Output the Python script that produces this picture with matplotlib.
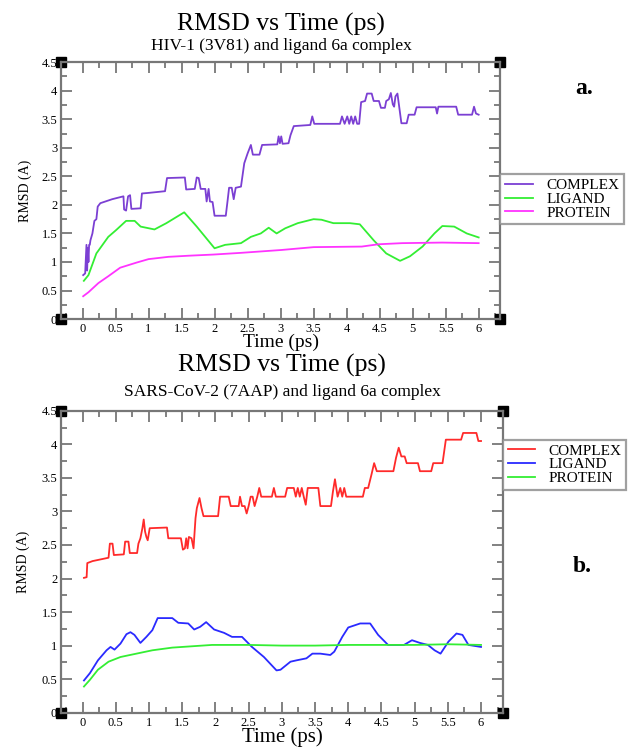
import numpy as np
import matplotlib
matplotlib.use("Agg")
import matplotlib.pyplot as plt
from matplotlib.ticker import MultipleLocator, FormatStrFormatter

plt.rcParams['font.family'] = ['Liberation Serif', 'DejaVu Serif']

# ---- panel a : HIV-1 (3V81) ----
a_complex_t = [0.01, 0.04, 0.06, 0.07, 0.08, 0.09, 0.10, 0.11, 0.12, 0.15, 0.18, 0.21, 0.23, 0.27,
               0.45, 0.62, 0.63, 0.66, 0.69, 0.72, 0.74, 0.88, 0.90, 1.00, 1.25, 1.28, 1.55, 1.57,
               1.70, 1.73, 1.76, 1.79, 1.86, 1.88, 1.91, 1.93, 1.97, 2.00, 2.17, 2.20, 2.22, 2.26,
               2.29, 2.32, 2.40, 2.45, 2.50, 2.55, 2.58, 2.68, 2.72, 2.95, 2.97, 2.99, 3.01, 3.03,
               3.12, 3.15, 3.20, 3.45, 3.48, 3.51, 3.90, 3.93, 3.97, 4.01, 4.04, 4.07, 4.10, 4.13,
               4.16, 4.19, 4.22, 4.28, 4.31, 4.38, 4.41, 4.49, 4.52, 4.58, 4.60, 4.64, 4.67, 4.70,
               4.72, 4.74, 4.77, 4.83, 4.91, 4.94, 5.03, 5.06, 5.35, 5.37, 5.39, 5.66, 5.69, 5.90,
               5.93, 5.96, 6.00]
a_complex_v = [0.77, 0.80, 1.30, 0.85, 1.25, 1.00, 1.30, 1.30, 1.38, 1.50, 1.72, 1.75, 1.97, 2.03,
               2.10, 2.15, 1.92, 1.90, 2.15, 2.17, 1.93, 1.94, 2.20, 2.21, 2.24, 2.47, 2.48, 2.27,
               2.28, 2.48, 2.47, 2.28, 2.28, 2.06, 2.28, 2.06, 2.05, 1.81, 1.81, 2.10, 2.30, 2.30,
               2.10, 2.30, 2.32, 2.73, 2.90, 3.05, 2.88, 2.88, 3.05, 3.06, 3.20, 3.08, 3.20, 3.07,
               3.08, 3.22, 3.38, 3.40, 3.55, 3.42, 3.42, 3.55, 3.42, 3.55, 3.42, 3.55, 3.42, 3.55,
               3.42, 3.42, 3.80, 3.82, 3.95, 3.95, 3.82, 3.82, 3.70, 3.70, 3.82, 3.85, 3.96, 3.76,
               3.72, 3.90, 3.95, 3.43, 3.43, 3.58, 3.58, 3.71, 3.71, 3.60, 3.72, 3.72, 3.58, 3.58,
               3.72, 3.60, 3.58]

a_ligand_t = [0.02, 0.09, 0.21, 0.39, 0.51, 0.66, 0.79, 0.88, 1.09, 1.27, 1.54, 1.73, 2.00, 2.16,
              2.40, 2.55, 2.70, 2.82, 2.94, 3.07, 3.26, 3.50, 3.62, 3.80, 4.05, 4.20, 4.41, 4.60,
              4.81, 4.96, 5.15, 5.33, 5.45, 5.63, 5.82, 6.00]
a_ligand_v = [0.67, 0.77, 1.15, 1.44, 1.56, 1.72, 1.72, 1.62, 1.57, 1.68, 1.87, 1.62, 1.24, 1.30,
              1.33, 1.44, 1.50, 1.60, 1.50, 1.59, 1.68, 1.75, 1.74, 1.68, 1.68, 1.66, 1.38, 1.15,
              1.02, 1.10, 1.27, 1.50, 1.63, 1.62, 1.50, 1.43]

a_protein_t = [0.01, 0.09, 0.24, 0.39, 0.57, 0.82, 1.00, 1.30, 1.61, 1.98, 2.40, 3.01, 3.50, 4.23,
               4.48, 4.84, 5.45, 6.00]
a_protein_v = [0.40, 0.47, 0.63, 0.75, 0.90, 0.99, 1.05, 1.09, 1.11, 1.13, 1.16, 1.21, 1.26, 1.27,
               1.31, 1.33, 1.34, 1.33]

# ---- panel b : SARS-CoV-2 (7AAP) ----
b_complex_t = [0.02, 0.06, 0.07, 0.15, 0.39, 0.41, 0.45, 0.47, 0.62, 0.64, 0.69, 0.71, 0.82, 0.84,
               0.87, 0.90, 0.92, 0.94, 0.96, 0.98, 1.01, 1.27, 1.29, 1.48, 1.51, 1.54, 1.56, 1.58,
               1.60, 1.64, 1.67, 1.70, 1.72, 1.76, 1.79, 1.82, 2.04, 2.07, 2.20, 2.23, 2.35, 2.37,
               2.40, 2.44, 2.47, 2.50, 2.53, 2.56, 2.59, 2.63, 2.66, 2.69, 2.85, 2.88, 2.91, 3.05,
               3.08, 3.18, 3.21, 3.24, 3.27, 3.30, 3.33, 3.36, 3.39, 3.55, 3.58, 3.74, 3.77, 3.80,
               3.84, 3.88, 3.91, 3.94, 3.97, 4.22, 4.25, 4.30, 4.35, 4.39, 4.43, 4.68, 4.72, 4.76,
               4.80, 4.85, 4.88, 5.05, 5.08, 5.25, 5.28, 5.42, 5.47, 5.70, 5.73, 5.93, 5.96, 6.00]
b_complex_v = [2.01, 2.02, 2.23, 2.26, 2.31, 2.52, 2.52, 2.35, 2.36, 2.55, 2.55, 2.38, 2.38, 2.52,
               2.60, 2.75, 2.88, 2.70, 2.62, 2.57, 2.75, 2.76, 2.60, 2.60, 2.43, 2.45, 2.60, 2.45,
               2.62, 2.60, 2.45, 2.90, 3.05, 3.20, 3.05, 2.93, 2.93, 3.22, 3.22, 3.08, 3.08, 3.22,
               3.08, 3.08, 2.97, 3.08, 3.22, 3.22, 3.08, 3.22, 3.35, 3.22, 3.22, 3.35, 3.22, 3.22,
               3.35, 3.35, 3.22, 3.35, 3.22, 3.35, 3.22, 3.10, 3.35, 3.35, 3.08, 3.08, 3.30, 3.48,
               3.22, 3.35, 3.22, 3.35, 3.22, 3.22, 3.35, 3.35, 3.55, 3.72, 3.60, 3.60, 3.80, 3.95,
               3.82, 3.82, 3.72, 3.72, 3.60, 3.60, 3.72, 3.72, 4.07, 4.07, 4.17, 4.17, 4.05, 4.05]

b_ligand_t = [0.02, 0.11, 0.23, 0.36, 0.42, 0.48, 0.57, 0.66, 0.72, 0.78, 0.87, 0.96, 1.05, 1.13,
              1.35, 1.44, 1.59, 1.68, 1.77, 1.86, 1.98, 2.13, 2.25, 2.40, 2.55, 2.73, 2.92, 2.98,
              3.13, 3.22, 3.37, 3.46, 3.58, 3.73, 3.79, 3.91, 4.00, 4.18, 4.33, 4.45, 4.60, 4.72,
              4.84, 4.96, 5.08, 5.20, 5.30, 5.39, 5.51, 5.63, 5.72, 5.81, 6.00]
b_ligand_v = [0.48, 0.59, 0.78, 0.93, 0.98, 0.94, 1.03, 1.17, 1.20, 1.16, 1.04, 1.13, 1.23, 1.41,
              1.41, 1.34, 1.33, 1.24, 1.28, 1.35, 1.24, 1.19, 1.13, 1.13, 0.98, 0.83, 0.63, 0.64,
              0.76, 0.78, 0.81, 0.88, 0.88, 0.86, 0.91, 1.13, 1.27, 1.33, 1.33, 1.16, 1.01, 1.01,
              1.01, 1.08, 1.04, 1.01, 0.93, 0.88, 1.06, 1.18, 1.16, 1.01, 0.98]

b_protein_t = [0.02, 0.11, 0.23, 0.39, 0.57, 0.81, 1.05, 1.35, 1.65, 1.95, 2.50, 3.00, 3.50, 4.00,
               4.50, 5.00, 5.50, 6.00]
b_protein_v = [0.39, 0.49, 0.64, 0.76, 0.83, 0.88, 0.93, 0.97, 0.99, 1.01, 1.01, 1.00, 1.00, 1.01,
               1.01, 1.01, 1.02, 1.01]

legend_labels = ['COMPLEX', 'LIGAND', 'PROTEIN']

fig = plt.figure(figsize=(6.29, 7.49), dpi=100)
ax_a = fig.add_axes([0.0976, 0.574, 0.698, 0.343])
ax_b = fig.add_axes([0.0976, 0.0485, 0.702, 0.403])


def style_axes(ax):
    ax.set_xlim(-0.32, 6.33)
    ax.set_ylim(0, 4.5)
    ax.xaxis.set_major_locator(MultipleLocator(0.5))
    ax.xaxis.set_minor_locator(MultipleLocator(0.25))
    ax.yaxis.set_major_locator(MultipleLocator(0.5))
    ax.yaxis.set_minor_locator(MultipleLocator(0.25))
    ax.xaxis.set_major_formatter(FormatStrFormatter('%g'))
    ax.yaxis.set_major_formatter(FormatStrFormatter('%g'))
    ax.tick_params(which='both', direction='in', top=True, right=True,
                   color='#777777', width=1.3)
    ax.tick_params(which='major', length=8, labelsize=9, pad=3)
    ax.tick_params(which='minor', length=4.5)
    for sp in ax.spines.values():
        sp.set_color('#777777')
        sp.set_linewidth(1.6)
    # black corner squares
    ax.plot([0, 1, 0, 1], [0, 0, 1, 1], 's', color='black', ms=7,
            transform=ax.transAxes, clip_on=False)
    ax.set_ylabel('RMSD (A)', fontsize=10)


lw = 1.3
ax_a.plot(a_complex_t, a_complex_v, color='#7B3FD3', lw=lw, label=legend_labels[0])
ax_a.plot(a_ligand_t, a_ligand_v, color='#33EE33', lw=lw, label=legend_labels[1])
ax_a.plot(a_protein_t, a_protein_v, color='#FF33FF', lw=lw, label=legend_labels[2])
style_axes(ax_a)
ax_a.yaxis.set_label_coords(-0.066, 0.5)
ax_a.set_xlabel('Time (ps)', fontsize=14, labelpad=-1)

ax_b.plot(b_complex_t, b_complex_v, color='#FF2A2A', lw=lw, label=legend_labels[0])
ax_b.plot(b_ligand_t, b_ligand_v, color='#2A2AFF', lw=lw, label=legend_labels[1])
ax_b.plot(b_protein_t, b_protein_v, color='#33EE33', lw=lw, label=legend_labels[2])
style_axes(ax_b)
ax_b.yaxis.set_label_coords(-0.072, 0.5)
ax_b.set_xlabel('Time (ps)', fontsize=15, labelpad=-1)

for ax, top in [(ax_a, 0.564), (ax_b, 0.905)]:
    leg = ax.legend(loc='upper left', bbox_to_anchor=(1.0, top), borderaxespad=0,
                    fontsize=11, frameon=True, fancybox=False, edgecolor='#888888',
                    handlelength=1.8, handletextpad=0.9, labelspacing=0.0,
                    borderpad=0.3)
    leg.get_frame().set_linewidth(1.6)

fig.text(0.4467, 0.968, 'RMSD vs Time (ps)', ha='center', va='center', fontsize=18.5)
fig.text(0.4467, 0.9386, 'HIV-1 (3V81) and ligand 6a complex', ha='center', va='center', fontsize=12.5)
fig.text(0.449, 0.5127, 'RMSD vs Time (ps)', ha='center', va='center', fontsize=18.5)
fig.text(0.449, 0.4766, 'SARS-CoV-2 (7AAP) and ligand 6a complex', ha='center', va='center', fontsize=12.5)
fig.text(0.928, 0.8825, 'a.', ha='center', va='center', fontsize=17, fontweight='bold')
fig.text(0.925, 0.243, 'b.', ha='center', va='center', fontsize=17, fontweight='bold')

fig.savefig('out.png', dpi=100)
